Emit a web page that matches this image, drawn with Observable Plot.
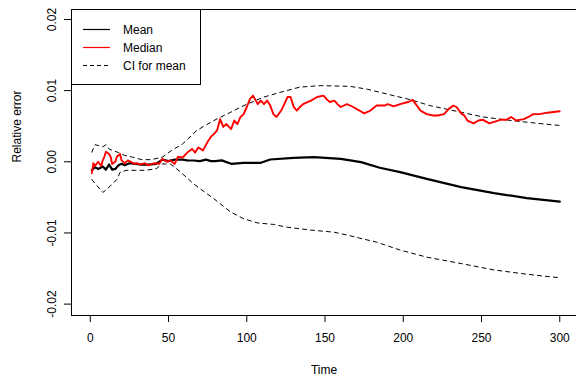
<!DOCTYPE html>
<html><head><meta charset="utf-8">
<script src="https://cdn.jsdelivr.net/npm/d3@7"></script>
<script src="https://cdn.jsdelivr.net/npm/@observablehq/plot@0.6"></script>
<style>body{margin:0;background:#fff} svg{display:block}</style>
</head><body><div id="chart"></div>
<script>
// ---- data ----
const meanT = [1,3,5,8,10,12,14,16,18,20,22,25,29,33,37,42,46,50,54,59,62,66,70,74,77,80,84,90,98,109,115,130,143,160,173,185,198,215,237,258,279,300];
const meanV = [-0.0012,-0.00076,-0.001,-0.00066,-0.0011,-0.00038,-0.0011,-0.001,-0.0005,-0.00028,-0.0005,-0.0002,-0.0003,-0.0004,-0.0004,-0.0003,0.0003,0.0001,0.0003,0.0003,0.0002,0.00018,0.0001,0.0003,0.0001,0.0001,0.0002,-0.00028,-0.00014,-0.00014,0.00032,0.00056,0.00065,0.00042,-0.00005,-0.00084,-0.00146,-0.0024,-0.00357,-0.0044,-0.0051,-0.0056];

const medT = [1,2,3,5,7,8,9,10,12,13,14,16,17,19,20,22,24,26,28,30,32,35,37,41,44,46,49,51,54,56,59,62,65,67,69,72,75,77,79,81,83,85,87,90,92,94,96,98,100,102,104,107,109,111,113,115,117,119,122,124,126,128,130,132,134,136,141,145,149,151,153,156,158,160,164,168,172,175,179,183,188,190,194,198,203,206,208,211,215,219,222,226,229,232,234,237,239,241,245,248,251,255,258,262,266,269,272,277,280,283,287,292,296,300];
const medV = [-0.0016,-0.0002,-0.0006,0.0,-0.0006,0.0002,0.0007,0.0014,0.0011,0.0007,-0.0003,0.0,0.0007,0.0011,0.0002,-0.0002,0.0002,0.0,-0.0003,-0.0002,-0.0004,-0.0002,-0.0005,-0.0002,-0.0003,0.0004,0.0,0.0002,-0.0003,0.0007,0.0006,0.0013,0.0018,0.0013,0.002,0.0016,0.0028,0.0035,0.0039,0.0044,0.006,0.0049,0.0053,0.0046,0.0058,0.0053,0.0063,0.0067,0.0077,0.0088,0.0093,0.0081,0.0086,0.0081,0.0086,0.0079,0.0067,0.0063,0.0072,0.0081,0.0091,0.0091,0.0077,0.0072,0.0077,0.0081,0.0086,0.0091,0.0093,0.0088,0.0084,0.0086,0.0081,0.0077,0.0081,0.0077,0.0072,0.0068,0.0072,0.0079,0.0079,0.0081,0.0078,0.0081,0.0084,0.0087,0.0081,0.0072,0.0067,0.0065,0.0065,0.0067,0.0074,0.0079,0.0077,0.0068,0.0065,0.0058,0.0054,0.0058,0.0059,0.0054,0.0056,0.0059,0.0059,0.0063,0.0058,0.006,0.0063,0.0067,0.0067,0.0069,0.007,0.0071];

const ciUpT = [1,3,5,8,10,12,14,18,20,22,27,33,39,46,52,59,68,79,90,100,111,122,134,147,166,177,190,205,217,234,251,269,286,300];
const ciUpV = [0.00135,0.0024,0.0023,0.0021,0.0024,0.0018,0.0016,0.0013,0.0011,0.0009,0.00065,0.0003,0.0003,0.00065,0.0016,0.0025,0.0044,0.0058,0.007,0.0081,0.0091,0.0098,0.0105,0.0107,0.0106,0.0102,0.0095,0.0087,0.0079,0.0071,0.0063,0.0058,0.0054,0.0051];

const ciLoT = [1,4,8,11,14,17,19,23,29,35,42,46,51,54,59,66,79,90,98,107,117,126,141,156,166,183,198,215,237,258,279,300];
const ciLoV = [-0.0025,-0.0033,-0.0043,-0.0038,-0.0031,-0.0025,-0.0015,-0.0012,-0.0012,-0.0012,-0.001,-0.0003,-0.0003,-0.00075,-0.0017,-0.0031,-0.0052,-0.0071,-0.008,-0.0086,-0.0088,-0.0092,-0.0096,-0.0099,-0.0104,-0.0113,-0.0124,-0.0134,-0.0143,-0.0152,-0.0158,-0.0163];

const xTicks = [0,50,100,150,200,250,300];
const yTicks = [-0.02,-0.01,0,0.01,0.02];
const yTickLabels = ["-0.02","-0.01","0.00","0.01","0.02"];
const legendLabels = ["Mean","Median","CI for mean"];
const legendColors = ["black","#ff0000","black"];
const legendDashes = ["none","none","4,3"];
const xDomain = [-12, 310.7];
const yDomain = [-0.0216, 0.0214];

const zip = (t, v) => t.map((d, i) => ({t: d, v: v[i]}));
const meanData = zip(meanT, meanV);
const medData = zip(medT, medV);
const upData = zip(ciUpT, ciUpV);
const loData = zip(ciLoT, ciLoV);

const font = "'Liberation Sans', Arial, Helvetica, sans-serif";

const chart = Plot.plot({
  width: 576, height: 384,
  marginLeft: 71, marginRight: 0, marginTop: 9, marginBottom: 69,
  style: {fontFamily: font, fontSize: "12px", color: "black", background: "white"},
  x: {domain: xDomain},
  y: {domain: yDomain},
  marks: [
    Plot.axisX({ticks: xTicks, tickSize: 7, tickPadding: 11, label: null, fontSize: 12}),
    Plot.axisY({ticks: yTicks, tickFormat: d => yTickLabels[yTicks.indexOf(d)], tickSize: 7, tickPadding: 9, tickRotate: -90, label: null, fontSize: 12}),
    Plot.ruleY([yDomain[0], yDomain[1]], {stroke: "black"}),
    Plot.ruleX([xDomain[0]], {stroke: "black"}),
    Plot.line(upData, {x: "t", y: "v", stroke: "black", strokeWidth: 1, strokeDasharray: "4,4"}),
    Plot.line(loData, {x: "t", y: "v", stroke: "black", strokeWidth: 1, strokeDasharray: "4,4"}),
    Plot.line(meanData, {x: "t", y: "v", stroke: "black", strokeWidth: 2.2}),
    Plot.line(medData, {x: "t", y: "v", stroke: "#ff0000", strokeWidth: 1.9}),
    Plot.text(["Time"], {frameAnchor: "bottom", dy: 58, fontSize: 12}),
    Plot.text(["Relative error"], {frameAnchor: "left", dx: -54, rotate: -90, fontSize: 12})
  ]
});
document.getElementById("chart").appendChild(chart);

// legend box (top-left, inside the plot region)
const svg = d3.select(chart);
const lg = svg.append("g").attr("font-family", font).attr("font-size", 12).attr("text-anchor", "start");
lg.append("rect").attr("x", 71.5).attr("y", 9.5).attr("width", 129).attr("height", 75)
  .style("fill", "white").style("stroke", "black");
legendLabels.forEach((lab, i) => {
  const y = 29.5 + i * 18;
  lg.append("line").attr("x1", 83).attr("x2", 110).attr("y1", y).attr("y2", y)
    .style("stroke", legendColors[i]).style("stroke-width", "1.2px")
    .style("stroke-dasharray", legendDashes[i]);
  lg.append("text").attr("x", 123).attr("y", y).attr("dy", "0.35em")
    .attr("text-anchor", "start").style("fill", "black").text(lab);
});
</script>
</body></html>
